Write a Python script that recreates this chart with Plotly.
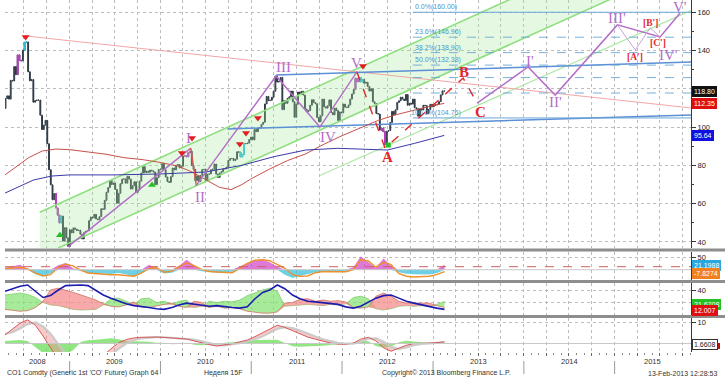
import pandas as pd
import plotly.graph_objects as go

W, H = 725, 389
def fx(p): return p / W
def fy(p): return 1 - p / H

# ---------------- DATA ----------------
# weekly closes CO1 (Brent), from 2008-04-11
close = [
 109.8,114.9,116.3,
 114.6,124.4,124.1,131.6,127.4,
 137.7,134.9,134.6,140.2,
 144.3,144.5,128.9,124.2,
 124.8,113.0,113.8,114.1,114.1,
 106.2,98.7,101.0,103.5,
 91.3,77.7,69.8,62.0,65.2,
 57.7,54.0,49.9,53.5,
 40.4,47.4,42.1,37.6,
 46.3,44.7,47.3,46.6,45.9,
 46.1,44.0,41.5,44.8,
 45.5,45.8,51.1,53.0,
 52.5,54.4,52.0,51.6,
 53.2,57.3,57.0,61.7,65.9,
 68.4,72.1,70.0,70.8,
 67.4,60.2,65.4,70.4,72.8,
 72.9,70.7,74.2,72.8,
 67.6,69.3,71.4,65.9,
 67.1,71.7,76.0,79.3,76.2,
 77.0,76.4,77.5,77.1,
 76.5,69.9,73.6,77.9,
 77.9,80.9,77.7,73.9,71.5,
 71.1,74.1,78.6,77.6,
 80.0,80.4,78.6,79.5,
 84.9,85.0,84.5,86.6,87.4,
 79.9,77.9,72.0,74.5,
 71.5,74.7,77.8,77.9,
 72.1,75.4,75.5,77.7,78.0,
 80.7,75.4,73.7,76.0,
 76.7,78.1,78.2,79.1,
 82.6,83.5,83.6,82.5,83.2,
 87.1,86.9,84.4,85.6,
 91.4,91.3,91.6,93.5,94.8,
 93.3,98.7,97.6,99.4,
 99.6,101.4,102.5,112.1,
 116.0,113.8,114.0,115.6,
 118.7,126.7,123.5,123.9,125.9,
 109.1,113.8,112.4,115.0,
 115.8,118.8,113.2,105.1,
 111.9,118.3,117.2,118.7,116.7,
 109.4,108.0,108.6,111.4,
 114.3,112.8,112.2,105.0,102.8,
 105.9,114.6,110.6,109.9,
 111.1,114.2,107.6,106.4,
 109.9,108.6,103.4,107.9,107.4,
 112.0,110.4,110.2,111.5,
 114.6,117.3,119.6,125.5,
 123.7,125.9,123.6,124.9,122.9,
 123.4,121.2,118.8,120.0,
 113.2,112.3,107.1,106.8,
 98.4,99.5,97.6,90.9,97.8,
 98.2,102.4,108.2,106.5,
 109.0,112.9,113.7,115.6,114.6,
 113.9,117.0,111.4,112.4,
 112.0,114.6,110.1,109.6,
 105.7,109.4,108.9,111.4,111.2,
 107.0,109.2,111.9,110.6,
 111.3,111.6,111.9,113.3,
 116.8,118.9,118.8,
]
first_open = 104.5
magenta_weeks = ['2008-06-06','2008-06-13','2008-06-20','2008-11-07','2008-11-14','2008-11-21',
                 '2010-04-09','2010-04-16','2010-04-23','2010-04-30','2012-02-24','2012-03-02',
                 '2012-03-09','2012-06-08','2012-06-15','2012-06-22']
cyan_weeks = ['2008-07-04','2008-07-11','2008-11-28','2010-11-19','2010-11-26','2010-12-03',
              '2012-03-16','2012-03-23']

# moving averages (100w red, 200w blue)
ma100_d = ['2008-04-16','2008-06-03','2008-07-20','2008-09-13','2008-11-06','2009-01-01','2009-03-15',
           '2009-05-27','2009-08-08','2009-10-20','2010-01-01','2010-03-15','2010-05-08','2010-07-02',
           '2010-08-26','2010-10-12','2010-11-25','2011-01-01','2011-03-15','2011-05-27','2011-08-08',
           '2011-10-20','2012-01-01','2012-03-14','2012-05-26','2012-08-07','2012-10-19','2013-01-01','2013-02-15']
ma100_v = [75,79.5,84,87.5,88.5,88.2,87.2,85.8,84,83,81.5,79.5,76.5,72.5,68.5,67.3,70,73,78,82.5,86,
           91,95.5,99.5,103.5,106.5,109,111.3,112.35]
ma200_d = ['2008-04-16','2008-06-15','2008-08-08','2008-10-20','2009-01-01','2009-07-01','2010-01-01',
           '2010-07-01','2010-11-25','2011-04-01','2011-08-08','2011-12-15','2012-04-15','2012-07-01',
           '2012-10-19','2013-02-15']
ma200_v = [65.5,69,72.3,74.4,75,75,75.5,76.5,80,84.5,88,88.9,88.4,88,91.5,95.64]

# trend lines
pink_d, pink_v = ['2008-07-08','2015-11-04'], [147.6,110.0]
blue_hi_d, blue_hi_v = ['2011-04-11','2015-11-04'], [127.2,134.0]
blue_lo_d, blue_lo_v = ['2010-09-27','2015-11-04'], [99.0,106.3]
ch1_d, ch1_v = ['2008-09-03','2014-01-01'], [55.5,170.0]
ch2_d, ch2_v = ['2008-11-16','2015-02-08'], [36.8,170.0]
ch3_d, ch3_v = ['2011-10-04','2015-11-04'], [74.7,160.9]
chan_fill_d = ['2008-09-03','2014-01-01','2015-02-08','2008-11-16','2008-09-03']
chan_fill_v = [55.5,170.0,170.0,36.8,36.8]

# fibonacci levels
fib_pct = ['0.0%','23.6%','38.2%','50.0%','61.8%','76.4%','100.0%']
fib_val = [160.00,146.96,138.90,132.38,125.86,117.80,104.76]
fib_labelled = [True,True,True,True,False,False,True]
fib_start, fib_end = '2012-10-12', '2015-11-04'
fib_label_x = ['2012-10-12','2012-10-12','2012-10-12','2012-10-12','','','2012-09-25']

# Elliott waves
w1_d, w1_v = ['2008-12-26','2010-05-03'], [37.5,89.0]
w12_d, w12_v = ['2010-05-03','2010-05-25'], [89.0,69.5]
w2_d, w2_v = ['2010-05-25','2011-04-11','2011-10-04','2012-03-01'], [69.5,126.7,100.0,128.8]
abc_d, abc_v = ['2012-03-01','2012-06-22','2013-05-02','2013-06-27'], [128.8,89.0,125.6,112.5]
proj_d = ['2013-06-27','2014-01-18','2014-05-07','2015-01-12','2015-07-03','2015-09-21']
proj_v = [112.5,131.4,116.7,153.4,147.1,159.6]
sub_d, sub_v = ['2015-01-12','2015-03-25','2015-05-24','2015-07-03'], [153.4,140.3,151.8,147.1]

wave_lbl = [('I','2010-04-22',94.3),('II','2010-06-09',63.4),('III','2011-05-09',131.4),
            ('IV','2011-11-06',94.8),('V','2012-03-01',133.5),("I'",'2014-01-27',134.5),
            ("II'",'2014-05-07',113.1),("III'",'2015-01-12',157.0),("IV'",'2015-08-05',137.7),
            ("V'",'2015-09-21',162.8)]
abc_lbl = [('A','2012-07-01',84.3),('B','2013-05-06',128.8),('C','2013-07-10',107.9)]
sub_lbl = [("[A']",'2015-03-25',136.6),("[B']",'2015-05-24',154.4),("[C']",'2015-06-25',143.9)]

dn_d = ['2008-07-08','2010-03-28','2010-05-08','2010-11-16','2010-12-11','2011-01-28','2012-03-25']
dn_v = [147.1,86.4,94.3,91.1,96.9,104.7,131.9]
up_d, up_v = ['2008-11-23','2009-11-28'], [43.4,69.7]
sq_d, sq_v = ['2012-07-05'], [90.6]

# indicator panels (monthly samples from 2008-04-16)
hist1 = [8,15,20,2,-18,-27,-15,18,27,5,-3,-14,-18,-15,-17,-13,-18,-28,-12,20,5,-15,-12,15,40,18,-6,-10,
         -12,-9,-8,14,25,38,40,30,12,-20,-33,-25,-18,-10,-7,-8,-6,-9,10,53,30,8,45,15,-10,-16,-18,-17,-19,-14,21.2]
orange1 = [4,8,10,3,-14,-25,-20,10,23,14,-3,-13,-16,-18,-20,-20,-23,-26,-14,5,8,-10,-6,12,27,16,0,-7,-9,
           -9,-12,5,25,38,40,36,20,5,-20,-26,-25,-12,-7,-8,-9,-8,0,40,35,10,30,20,-15,-26,-29,-28,-26,-20,-7.8]
dip = [32,34,35,33,28,20,16,15,12,9,8,8,9,16,26,27,22,17,26,27,20,22,17,22,24,12,14,22,20,22,21,24,31,36,
       40,43,38,14,15,16,17,16,15,17,16,18,28,30,26,10,8,10,14,15,14,15,14,17,21.7]
dim = [9,7,6,7,12,22,40,43,40,36,32,28,24,18,14,13,16,21,13,12,15,17,19,14,12,22,20,12,14,11,12,10,6,4,
       3,3,5,19,20,25,26,22,24,22,23,21,12,11,13,30,35,30,22,19,19,18,19,15,12.0]
adx = [38,42,46,48,38,28,31,40,47,48,48,47,40,32,27,22,18,15,14,12,10,9,12,16,19,17,15,14,15,13,12,11,
       13,26,36,40,48,42,32,26,22,21,20,19,17,13,11,14,20,27,31,32,27,22,19,16,14,11,9]
macd = [4.0,6.5,9.5,11.0,8.5,3.5,-3.0,-9,-13,-14,-13,-11,-9,-5.5,-2.5,0.3,1.8,2.6,2.9,3.0,3.0,2.8,2.5,
        2.3,2.1,1.2,0.2,-0.5,-1.2,-0.8,-0.1,0.8,1.6,3.2,5.0,6.8,8.5,7.5,6.0,4.5,3.0,2.0,1.0,0.2,-0.3,-0.3,
        0.2,2.0,2.9,1.2,-2.0,-3.6,-2.2,-0.8,0.0,0.0,0.2,0.4,0.8]
signal = [4.5,5.2,7,9,9.8,8,4.5,-0.5,-5,-9,-11,-11.5,-10.5,-8.5,-5.5,-2.5,0,1.5,2.4,2.8,3.0,2.9,2.7,2.5,
          2.3,1.8,1.0,0.2,-0.6,-0.9,-0.5,0.2,1.0,2.0,3.4,5.0,6.8,7.6,7.2,6.0,4.5,3.2,2.0,1.0,0.3,-0.1,-0.1,
          0.8,2.2,2.4,0.8,-1.5,-2.6,-1.8,-0.8,-0.2,0.0,0.2,0.5]
mhist = [1.2,1.5,1.6,1.2,-1.5,-4.5,-6,-6,-5,-3,0.8,1.5,1.8,2.2,2.5,2.0,1.2,1.0,1.0,0.8,0.3,0.2,-0.3,-0.2,
         0.4,-0.6,-0.8,-0.5,-0.4,0.3,0.5,0.7,1.0,1.6,1.8,1.8,1.7,0.3,-1.3,-1.5,-1.5,-1.2,-1.0,-0.5,-0.3,0.0,
         0.4,1.3,1.0,-1.2,-2.0,-1.5,0.6,1.3,0.9,0.3,0.2,0.2,0.6]

year_labels = ['2008','2009','2010','2011','2012','2013','2014','2015']
year_label_pos = ['2008-08-23','2009-07-02','2010-07-02','2011-07-02','2012-07-01','2013-07-02',
                  '2014-07-02','2015-06-03']
year_bounds = ['2009-01-01','2010-01-01','2011-01-01','2012-01-01','2013-01-01','2014-01-01','2015-01-01']

# ---------------- BUILD ----------------
dates = pd.date_range('2008-04-11', periods=len(close), freq='W-FRI')
opens = [first_open] + close[:-1]
highs = [max(o, c) for o, c in zip(opens, close)]
lows = [min(o, c) for o, c in zip(opens, close)]
df = pd.DataFrame(dict(d=dates, o=opens, h=highs, l=lows, c=close))

def mdates(n):
    return pd.date_range('2008-04-01', periods=n, freq='MS') + pd.Timedelta(days=15)

PURPLE = '#b46ec8'
RED = '#e3262a'
fig = go.Figure()

def line(d, v, color, width=1.2, dash=None, yaxis='y', **kw):
    fig.add_trace(go.Scatter(x=d, y=v, mode='lines', yaxis=yaxis, hoverinfo='skip',
                             line=dict(color=color, width=width, dash=dash), **kw))

# channel
fig.add_trace(go.Scatter(x=chan_fill_d, y=chan_fill_v, fill='toself', mode='none',
                         fillcolor='rgba(170,235,160,0.30)', hoverinfo='skip'))
line(ch1_d, ch1_v, '#8fdf80', 1.6)
line(ch2_d, ch2_v, '#8fdf80', 1.6)
line(ch3_d, ch3_v, '#aee8a4', 1.2)
line(pink_d, pink_v, '#f2a6a6', 1.0)
line(blue_hi_d, blue_hi_v, '#5b8fd6', 1.5)
line(blue_lo_d, blue_lo_v, '#5b8fd6', 1.5)
for pct, val in zip(fib_pct, fib_val):
    solid = pct in ('0.0%', '100.0%')
    line([fib_start, fib_end], [val, val], '#6aa6d6', 1.0 if solid else 0.9, None if solid else 'dash')
line(ma100_d, ma100_v, '#c8504a', 1.0)
line(ma200_d, ma200_v, '#3a3aa8', 1.0)

fig.add_trace(go.Candlestick(x=df.d, open=df.o, high=df.h, low=df.l, close=df.c,
                             increasing=dict(line=dict(color='#2d3842', width=1), fillcolor='#8d99a4'),
                             decreasing=dict(line=dict(color='#2d3842', width=1), fillcolor='#2d3842'),
                             whiskerwidth=0, hoverinfo='skip'))
for wk, col in ((magenta_weeks, '#c23cc8'), (cyan_weeks, '#2ec4dc')):
    sub = df[df.d.isin(pd.to_datetime(wk))]
    fig.add_trace(go.Candlestick(x=sub.d, open=sub.o, high=sub.h, low=sub.l, close=sub.c,
                                 increasing=dict(line=dict(color=col, width=1), fillcolor=col),
                                 decreasing=dict(line=dict(color=col, width=1), fillcolor=col),
                                 whiskerwidth=0, hoverinfo='skip'))

line(w1_d, w1_v, PURPLE, 1.4)
line(w12_d, w12_v, '#e05050', 1.4)
line(w2_d, w2_v, PURPLE, 1.4)
line(abc_d, abc_v, RED, 1.4, 'dash')
line(proj_d, proj_v, PURPLE, 1.5)
line(sub_d, sub_v, '#c9a2d8', 1.0)

fig.add_trace(go.Scatter(x=dn_d, y=dn_v, mode='markers', hoverinfo='skip',
                         marker=dict(symbol='triangle-down', size=7, color='#e02020')))
fig.add_trace(go.Scatter(x=up_d, y=up_v, mode='markers', hoverinfo='skip',
                         marker=dict(symbol='triangle-up', size=7, color='#22c022')))
fig.add_trace(go.Scatter(x=sq_d, y=sq_v, mode='markers', hoverinfo='skip',
                         marker=dict(symbol='square', size=5, color='#22c022')))

# panel 1
md = mdates(len(hist1))
fig.add_trace(go.Scatter(x=md, y=[min(v, 0) for v in hist1], yaxis='y2', mode='lines', fill='tozeroy',
                         line=dict(width=0, color='#3cc0dc'), fillcolor='rgba(60,192,220,0.75)', hoverinfo='skip'))
fig.add_trace(go.Scatter(x=md, y=[max(v, 0) for v in hist1], yaxis='y2', mode='lines', fill='tozeroy',
                         line=dict(width=0, color='#d040c8'), fillcolor='rgba(208,64,200,0.70)', hoverinfo='skip'))
line(mdates(len(orange1)), orange1, '#f0902a', 1.4, yaxis='y2')

# panel 2
md = mdates(len(dip))
lo = [min(a, b) for a, b in zip(dip, dim)]
line(md, lo, 'rgba(0,0,0,0)', 0, yaxis='y3')
fig.add_trace(go.Scatter(x=md, y=dip, yaxis='y3', mode='lines', fill='tonexty', hoverinfo='skip',
                         line=dict(color='#7ccf6a', width=0.8), fillcolor='rgba(130,225,110,0.70)'))
line(md, lo, 'rgba(0,0,0,0)', 0, yaxis='y3')
fig.add_trace(go.Scatter(x=md, y=dim, yaxis='y3', mode='lines', fill='tonexty', hoverinfo='skip',
                         line=dict(color='#d07060', width=0.8), fillcolor='rgba(245,140,140,0.75)'))
line(mdates(len(adx)), adx, '#1c1cb0', 1.6, yaxis='y3')

# panel 3
md = mdates(len(mhist))
fig.add_trace(go.Scatter(x=md, y=mhist, yaxis='y4', mode='lines', fill='tozeroy', hoverinfo='skip',
                         line=dict(width=0, color='#70dd60'), fillcolor='rgba(110,220,90,0.75)'))
line(mdates(len(signal)), signal, 'rgba(200,200,200,0.9)', 2.2, yaxis='y4')
fig.add_trace(go.Scatter(x=mdates(len(macd)), y=macd, yaxis='y4', mode='lines', fill='tonexty',
                         hoverinfo='skip', line=dict(color='#d45a5a', width=1),
                         fillcolor='rgba(240,140,140,0.45)'))

# ---------------- LAYOUT ----------------
grid = dict(showgrid=True, gridcolor='#bcbcbc', griddash='dot', gridwidth=1, zeroline=False)
yax = dict(side='right', anchor='x', showline=True, linecolor='#3a3a3a', linewidth=1, ticks='outside',
           ticklen=4, tickcolor='#3a3a3a', tickfont=dict(size=7.5, color='#222', family='Liberation Sans'),
           **grid)
shapes = []
for yy in (250, 281.5, 316.5):
    shapes.append(dict(type='line', xref='paper', yref='paper', x0=fx(5), x1=1, y0=fy(yy), y1=fy(yy),
                       line=dict(color='#8e8e8e', width=3)))
for b in year_bounds:
    shapes.append(dict(type='line', xref='x', yref='paper', x0=b, x1=b, y0=fy(374), y1=fy(361),
                       line=dict(color='#9a9a9a', width=1)))
shapes.append(dict(type='line', xref='paper', yref='y2', x0=fx(5), x1=fx(691), y0=0, y1=0,
                   line=dict(color='#c8c8c8', width=1)))
shapes.append(dict(type='line', xref='paper', yref='y2', x0=fx(5), x1=fx(691), y0=12, y1=12,
                   line=dict(color='#d06060', width=1, dash='dash')))
shapes.append(dict(type='line', xref='paper', yref='y4', x0=fx(5), x1=fx(691), y0=0, y1=0,
                   line=dict(color='#c8c8c8', width=1)))
# red tag partly hidden behind the white MACD tag
shapes.append(dict(type='rect', xref='paper', yref='paper', x0=fx(693), x1=fx(720), y0=fy(349), y1=fy(343),
                   fillcolor='#c01010', line=dict(width=0)))

ann = []
for pct, val, lab, lx in zip(fib_pct, fib_val, fib_labelled, fib_label_x):
    if lab:
        ann.append(dict(x=lx, y=val, xref='x', yref='y',
                        text=f'{pct}({val:.2f})', showarrow=False, xanchor='left', yanchor='bottom',
                        yshift=-1, font=dict(size=7, color='#4f94cc', family='Liberation Sans')))
for t, d, v in wave_lbl:
    ann.append(dict(x=d, y=v, xref='x', yref='y', text=t, showarrow=False,
                    font=dict(size=15, color=PURPLE, family='Liberation Serif')))
for t, d, v in abc_lbl:
    ann.append(dict(x=d, y=v, xref='x', yref='y', text=f'<b>{t}</b>', showarrow=False,
                    font=dict(size=15, color=RED, family='Liberation Serif')))
for t, d, v in sub_lbl:
    ann.append(dict(x=d, y=v, xref='x', yref='y', text=f'<b>{t}</b>', showarrow=False,
                    font=dict(size=9.5, color=RED, family='Liberation Serif')))

def tag(val, yref, text, bg, fg='white', shift=0, border=None):
    ann.append(dict(x=fx(692), y=val, xref='paper', yref=yref, text=text, showarrow=False,
                    xanchor='left', yanchor='middle', yshift=shift, bgcolor=bg, borderpad=1,
                    bordercolor=border or bg, borderwidth=1,
                    font=dict(size=7, color=fg, family='Liberation Sans')))
tag(close[-1], 'y', f'{close[-1]:.2f}', '#111111')
tag(ma100_v[-1], 'y', f'{ma100_v[-1]:.2f}', '#e01010')
tag(ma200_v[-1], 'y', f'{ma200_v[-1]:.2f}', '#1010e0')
tag(hist1[-1], 'y2', '21.1988', '#29a8e0', shift=-1.5)
tag(orange1[-1], 'y2', '-7.8274', '#f08020', shift=-1.5)
tag(dip[-1], 'y3', '21.6708', '#22c022', shift=-3)
tag(dim[-1], 'y3', '12.007', '#e01010', shift=-3)
tag(mhist[-1], 'y4', '1.6608', '#ffffff', fg='#222', shift=-2, border='#333333')

for t, d in zip(year_labels, year_label_pos):
    ann.append(dict(x=d, y=fy(368), xref='x', yref='paper', text=t, showarrow=False,
                    font=dict(size=7.5, color='#333', family='Liberation Sans')))
foot = dict(size=7, color='#333', family='Liberation Sans')
ann += [
    dict(x=fx(5), y=fy(378.5), xref='paper', yref='paper', xanchor='left', showarrow=False,
         text="CO1 Comdty (Generic 1st 'CO' Future) Graph 64", font=foot),
    dict(x=fx(202), y=fy(378.5), xref='paper', yref='paper', xanchor='left', showarrow=False,
         text='Неделя 15F', font=foot),
    dict(x=fx(380), y=fy(378.5), xref='paper', yref='paper', xanchor='left', showarrow=False,
         text='Copyright© 2013 Bloomberg Finance L.P.', font=foot),
    dict(x=fx(719), y=fy(378.5), xref='paper', yref='paper', xanchor='right', showarrow=False,
         text='13-Feb-2013 12:28:53', font=foot),
]

fig.update_layout(
    width=W, height=H, margin=dict(l=0, r=0, t=0, b=0), showlegend=False,
    paper_bgcolor='white', plot_bgcolor='white',
    xaxis=dict(domain=[fx(5), fx(691)], range=['2008-04-16', '2015-11-04'], type='date', anchor='y4',
               dtick='M3', tick0='2008-01-01', showticklabels=False, ticks='outside', ticklen=3,
               tickcolor='#666', minor=dict(dtick='M1', ticks='outside', ticklen=2, tickcolor='#888'),
               rangeslider=dict(visible=False), **grid),
    yaxis=dict(domain=[fy(248), 1], range=[36.8, 166.4], tickvals=[40, 60, 80, 100, 120, 140, 160],
               ticktext=['40', '60', '80', '100', '', '140', '160'],
               minor=dict(dtick=10, tick0=0, ticks='outside', ticklen=2, tickcolor='#3a3a3a', showgrid=False),
               **yax),
    yaxis2=dict(domain=[fy(280), fy(252)], range=[-41.2, 70.8], tickvals=[50], ticktext=['50'], **yax),
    yaxis3=dict(domain=[fy(315), fy(283)], range=[0, 51.2], tickvals=[20, 40], ticktext=['', '40'], **yax),
    yaxis4=dict(domain=[fy(352), fy(318)], range=[-3.95, 11.86], tickvals=[0, 10], ticktext=['', '10'], **yax),
    shapes=shapes, annotations=ann,
)
fig.write_html('out.html', config={'displayModeBar': False, 'staticPlot': True},
               post_script="document.body.style.margin='0';document.body.style.padding='0';document.body.style.overflow='hidden';")
